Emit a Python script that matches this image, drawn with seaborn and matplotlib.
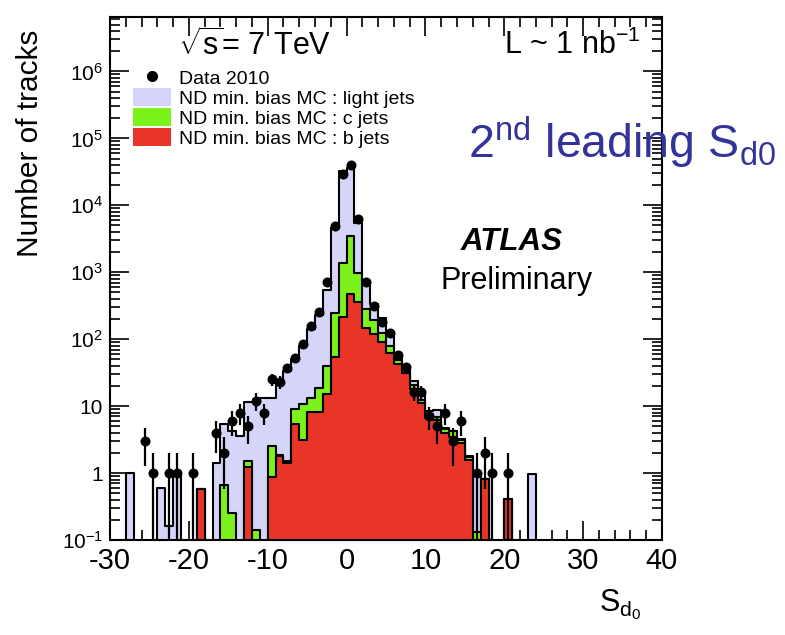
import numpy as np
import pandas as pd
import matplotlib
matplotlib.use("Agg")
import matplotlib.pyplot as plt
import seaborn as sns
from matplotlib.lines import Line2D
from matplotlib.patches import Patch
from matplotlib.ticker import FixedLocator, FixedFormatter, MultipleLocator, LogLocator, NullFormatter

# ---------------- data ----------------
bin_low = list(range(-30, 40))          # 1-unit bins from -30 to 40

# stacked MC tops: light+c+b (total), c+b, b   (bins -30 ... 39)
mc_total = [0, 0, 1.0, 0, 0, 0, 0.59, 0.16, 0.95, 0, 0, 0.57, 0, 1.4, 5.4, 4.3, 3.6, 11.7, 11.7, 13,
            13, 22, 33, 50, 78, 140, 230, 550, 4600, 33000, 36000, 5400, 720, 340, 205, 120, 55, 37, 24, 15,
            8.5, 8.8, 4.7, 4.3, 3.2, 1.8, 0.95, 0.82, 0, 0, 0.41, 0, 0, 0.96, 0, 0, 0, 0, 0, 0,
            0, 0, 0, 0, 0, 0, 0, 0, 0, 0]
mc_cb = [0, 0, 0, 0, 0, 0, 0, 0, 0, 0, 0, 0.57, 0, 0, 0.66, 0.25, 0, 1.5, 0.14, 0,
         2.5, 1.85, 1.5, 9.1, 10.8, 13, 18.7, 40, 245, 1370, 3500, 990, 283, 195, 125, 78, 49, 35, 21, 12.3,
         7.5, 6.8, 4.5, 4.2, 3.1, 1.76, 0.13, 0.82, 0, 0, 0.41, 0, 0, 0, 0, 0, 0, 0, 0, 0,
         0, 0, 0, 0, 0, 0, 0, 0, 0, 0]
mc_b = [0, 0, 0, 0, 0, 0, 0, 0, 0, 0, 0, 0.57, 0, 0, 0, 0, 0, 1.22, 0, 0,
        0.88, 1.8, 1.4, 5.4, 3.1, 8.3, 8.3, 15, 54, 215, 470, 355, 145, 120, 91, 62, 42, 31, 18, 11,
        6.6, 6.2, 3.9, 3.5, 2.8, 1.57, 0, 0.82, 0, 0, 0.41, 0, 0, 0, 0, 0, 0, 0, 0, 0,
        0, 0, 0, 0, 0, 0, 0, 0, 0, 0]

data_bins = [-26, -25, -23, -22, -20, -17, -16, -15, -14, -13, -12, -11, -10, -9, -8, -7, -6, -5, -4, -3,
             -2, -1, 0, 1, 2, 3, 4, 5, 6, 7, 8, 9, 10, 11, 12, 13, 14, 16, 17, 18, 20]
data_counts = [3, 1, 1, 1, 1, 4, 2, 6, 8, 5, 12, 8, 25, 23, 37, 53, 84, 155, 251, 725,
               4900, 29500, 40000, 6300, 725, 310, 182, 123, 59, 38, 16, 16, 7, 5, 8, 3, 6, 1, 2, 1, 1]

x_ticks = [-30, -20, -10, 0, 10, 20, 30, 40]
y_ticks = [0.1, 1, 10, 100, 1e3, 1e4, 1e5, 1e6]
y_tick_labels = ['$10^{-1}$', '1', '10', '$10^{2}$', '$10^{3}$', '$10^{4}$', '$10^{5}$', '$10^{6}$']
legend_labels = ['Data 2010', 'ND min. bias MC : light jets',
                 'ND min. bias MC : c jets', 'ND min. bias MC : b jets']

c_light = '#d4d5f8'
c_green = '#7cf21c'
c_red = '#e83528'
c_blue = '#333399'

# ---------------- style ----------------
sns.set_theme(style="ticks")
plt.rcParams['font.family'] = ['Liberation Sans', 'DejaVu Sans']
plt.rcParams['mathtext.fontset'] = 'custom'
plt.rcParams['mathtext.rm'] = 'Liberation Sans'
plt.rcParams['mathtext.it'] = 'Liberation Sans:italic'
plt.rcParams['mathtext.bf'] = 'Liberation Sans:bold'
plt.rcParams['axes.unicode_minus'] = False
for k in ['text.color', 'axes.labelcolor', 'xtick.color', 'ytick.color', 'axes.edgecolor']:
    plt.rcParams[k] = 'black'

fig = plt.figure(figsize=(7.85, 6.35), dpi=100)
ax = fig.add_axes([110 / 785, 1 - 540 / 635, 552 / 785, 523 / 635])
ax.set_yscale('log')

df = pd.DataFrame({'center': np.array(bin_low) + 0.5,
                   'total': mc_total, 'cb': mc_cb, 'b': mc_b})
edges = list(range(-30, 41))

for col, colr in [('total', c_light), ('cb', c_green), ('b', c_red)]:
    sns.histplot(data=df, x='center', weights=col, bins=edges, element='step', fill=True,
                 color=colr, facecolor=colr, alpha=1, edgecolor='black', linewidth=1.5, ax=ax)

# data points with Poisson errors
dx = np.array(data_bins) + 0.5
dy = np.array(data_counts, dtype=float)
ax.errorbar(dx, dy, yerr=np.sqrt(dy), fmt='none', ecolor='black', elinewidth=1.6, capsize=0, zorder=5)
sns.scatterplot(x=dx, y=dy, color='black', s=52, edgecolor='black', linewidth=0, zorder=6, ax=ax)

ax.set_xlim(-30, 40)
ax.set_ylim(0.1, 6.5e6)
ax.set_xlabel('')
ax.set_ylabel('')

ax.xaxis.set_major_locator(FixedLocator(x_ticks))
ax.xaxis.set_minor_locator(MultipleLocator(2))
ax.yaxis.set_major_locator(FixedLocator(y_ticks))
ax.yaxis.set_major_formatter(FixedFormatter(y_tick_labels))
ax.yaxis.set_minor_locator(LogLocator(base=10, subs=np.arange(2, 10), numticks=20))
ax.yaxis.set_minor_formatter(NullFormatter())

ax.tick_params(which='both', direction='in', top=True, right=True, color='black', width=1.2)
ax.tick_params(which='major', length=14)
ax.tick_params(which='minor', length=7)
ax.tick_params(axis='x', labelsize=21, pad=5)
ax.tick_params(axis='y', labelsize=15, pad=5)
for s in ax.spines.values():
    s.set_color('black')
    s.set_linewidth(1.5)

# legend
handles = [Line2D([], [], marker='o', color='black', linestyle='none', markersize=7),
           Patch(facecolor=c_light, edgecolor='none'),
           Patch(facecolor=c_green, edgecolor='none'),
           Patch(facecolor=c_red, edgecolor='none')]
fig.legend(handles, legend_labels, loc='upper left', bbox_to_anchor=(133 / 785, 1 - 68 / 635),
           frameon=False, fontsize=14, handlelength=1.95, handleheight=1.05, labelspacing=0.02,
           handletextpad=0.4, borderpad=0, borderaxespad=0)

# texts
fig.text(178 / 785, 1 - 45 / 635, r'$\sqrt{\mathregular{s}}$= 7 TeV', fontsize=22, ha='left', va='center')
fig.text(641 / 785, 1 - 45 / 635, r'L ~ 1 nb$^{-1}$', fontsize=22, ha='right', va='center')
fig.text(468 / 785, 1 - 142 / 635, r'2$^{\mathregular{nd}}$ leading S$_{\mathregular{d0}}$',
         fontsize=33.5, color=c_blue, ha='left', va='center')
fig.text(512 / 785, 1 - 242 / 635, 'ATLAS', fontsize=22.5, fontweight='bold', fontstyle='italic',
         ha='center', va='center')
fig.text(517 / 785, 1 - 281 / 635, 'Preliminary', fontsize=22, ha='center', va='center')
fig.text(30 / 785, 1 - 30 / 635, 'Number of tracks', fontsize=21.5, rotation=90, ha='center', va='top')
fig.text(620 / 785, 1 - 605 / 635, r'S$_{\mathregular{d}_{\mathregular{0}}}$', fontsize=22,
         ha='center', va='center')

fig.savefig('out.png', dpi=100)
